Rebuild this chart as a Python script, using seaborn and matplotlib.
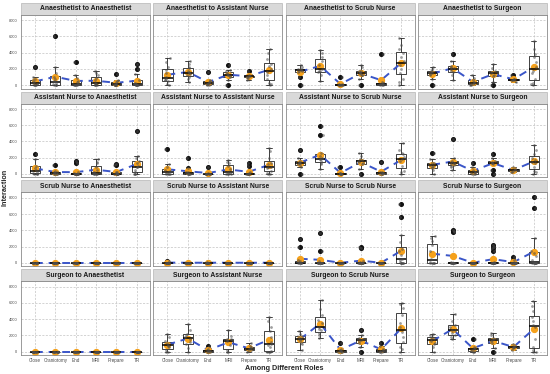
import numpy as np
import pandas as pd
import matplotlib
matplotlib.use("Agg")
import matplotlib.pyplot as plt
from matplotlib.patches import Rectangle
import seaborn as sns

# roles and phases
roles = ["Anaesthetist", "Assistant Nurse", "Scrub Nurse", "Surgeon"]
phases = ["Close", "Craniotomy", "End", "MRI", "Prepare", "TR"]

# interaction values per phase (Close, Craniotomy, End, MRI, Prepare, TR)
an_to_an = [
    [0, 0, 0, 50, 100, 200, 300, 400, 600, 800, 1000, 2200],
    [0, 0, 0, 0, 100, 300, 500, 800, 1000, 1500, 2200, 6100],
    [0, 0, 0, 0, 0, 100, 200, 400, 500, 900, 1300, 2900],
    [0, 0, 0, 0, 100, 200, 300, 600, 900, 1200, 1500, 1800],
    [0, 0, 0, 0, 50, 100, 200, 400, 500, 600, 1400],
    [0, 0, 0, 0, 0, 0, 100, 200, 300, 600, 1400, 2000, 2600],
]
an_to_as = [
    [0, 200, 500, 600, 700, 800, 1000, 1500, 1900, 2200, 2800, 3300],
    [400, 800, 1000, 1200, 1400, 1500, 1600, 1800, 2100, 2200, 2600, 3000],
    [0, 0, 100, 150, 200, 300, 400, 500, 600, 1600],
    [0, 600, 1000, 1100, 1200, 1300, 1400, 1500, 1700, 1900, 2500],
    [700, 900, 1000, 1050, 1100, 1150, 1300, 1700],
    [0, 200, 300, 800, 1200, 1600, 2000, 2400, 2600, 3200, 4000, 4500],
]
an_to_sc = [
    [0, 1000, 1600, 1700, 1800, 1900, 1950, 2000, 2200, 2500],
    [500, 1200, 1600, 1700, 1800, 2000, 2500, 3000, 3500, 4000, 4300],
    [0, 0, 0, 0, 0, 50, 100, 150, 1000],
    [0, 800, 1200, 1300, 1400, 1500, 1600, 1700, 1800, 2200, 2500],
    [0, 0, 50, 100, 200, 300, 400, 3900],
    [0, 400, 800, 1500, 2000, 2500, 3000, 3500, 4000, 4500, 5000, 5800],
]
an_to_su = [
    [0, 800, 1200, 1400, 1500, 1600, 1700, 1800, 2000, 2300],
    [600, 1200, 1600, 1800, 2000, 2100, 2300, 2400, 3000, 3900],
    [0, 0, 100, 200, 300, 400, 600, 900, 1200],
    [0, 400, 1100, 1300, 1500, 1600, 1700, 2100, 2600],
    [400, 600, 650, 700, 750, 800, 1200],
    [0, 200, 300, 800, 1500, 1800, 2200, 2800, 3500, 3800, 4500, 5400],
]
as_to_an = [
    [0, 0, 50, 100, 300, 500, 700, 1000, 1800, 2400],
    [0, 0, 0, 50, 100, 200, 300, 400, 1100],
    [0, 0, 0, 0, 0, 0, 0, 0, 0, 0, 50, 100, 200, 1400, 1600],
    [0, 0, 0, 0, 0, 100, 200, 500, 900, 1300, 1500, 1800],
    [0, 0, 0, 0, 0, 0, 50, 100, 200, 300, 1100, 1200],
    [0, 0, 0, 200, 500, 800, 900, 1000, 1300, 1600, 2000, 2200, 5300],
]
as_to_as = [
    [0, 0, 0, 50, 100, 200, 400, 500, 800, 1200, 3100],
    [0, 0, 0, 0, 50, 100, 200, 300, 700, 2000],
    [0, 0, 0, 0, 0, 0, 50, 100, 900],
    [0, 0, 0, 0, 100, 200, 300, 600, 1000, 1300, 1500, 1700],
    [0, 0, 0, 0, 0, 50, 100, 200, 1000, 1300],
    [0, 0, 100, 400, 700, 800, 900, 1200, 1400, 2000, 2800, 3200],
]
as_to_sc = [
    [0, 900, 1100, 1200, 1300, 1400, 1500, 1600, 2000, 3000],
    [600, 1200, 1400, 1600, 1800, 1900, 2000, 2200, 2600, 4800, 5900],
    [0, 0, 0, 0, 50, 100, 150, 800],
    [0, 600, 1200, 1300, 1500, 1600, 1700, 1800, 2200, 2600],
    [0, 0, 50, 100, 150, 200, 300, 1500],
    [0, 300, 400, 1000, 1600, 1900, 2100, 2400, 2600, 3000, 3800],
]
as_to_su = [
    [0, 500, 700, 900, 1000, 1100, 1300, 1400, 1800, 2600],
    [500, 900, 1000, 1100, 1200, 1300, 1400, 1500, 1600, 2000, 4300],
    [0, 0, 50, 100, 200, 300, 500, 900, 1300],
    [0, 500, 1200, 1300, 1400, 1500, 1600, 2000, 2500],
    [200, 300, 400, 500, 600, 900],
    [0, 200, 400, 900, 1300, 1500, 1700, 2000, 2400, 3000, 3600],
]
sc_to_an = [
    [0, 0, 0, 0, 0, 0, 0, 0, 0, 0],
    [0, 0, 0, 0, 0, 0, 0, 0, 0, 0],
    [0, 0, 0, 0, 0, 0, 0, 0, 0, 0],
    [0, 0, 0, 0, 0, 0, 0, 0, 0, 0],
    [0, 0, 0, 0, 0, 0, 0, 0, 0, 0],
    [0, 0, 0, 0, 0, 0, 0, 0, 0, 0],
]
sc_to_as = [
    [0, 0, 0, 0, 0, 0, 0, 0, 0, 200],
    [0, 0, 0, 0, 0, 0, 0, 0, 0, 0],
    [0, 0, 0, 0, 0, 0, 0, 0, 0, 50],
    [0, 0, 0, 0, 0, 0, 0, 0, 0, 0],
    [0, 0, 0, 0, 0, 0, 0, 0, 0, 0],
    [0, 0, 0, 0, 0, 0, 0, 0, 0, 30],
]
sc_to_sc = [
    [0, 0, 0, 0, 0, 0, 100, 200, 300, 1900, 2900],
    [0, 0, 0, 0, 0, 0, 0, 0, 0, 0, 0, 0, 200, 1500, 3700],
    [0, 0, 0, 0, 0, 0, 0, 0, 0, 0],
    [0, 0, 0, 0, 0, 0, 0, 0, 0, 0, 0, 0, 100, 200, 1800, 2000],
    [0, 0, 0, 0, 0, 0, 0, 0, 0, 0],
    [0, 0, 0, 0, 0, 0, 100, 300, 500, 1000, 1500, 1700, 2500, 3400, 5600, 7200],
]
sc_to_su = [
    [0, 0, 0, 0, 0, 100, 500, 1500, 2200, 2700, 3100, 3300],
    [0, 0, 0, 0, 0, 0, 0, 0, 0, 0, 100, 3800, 3900, 4000],
    [0, 0, 0, 0, 0, 0, 0, 0, 0, 0],
    [0, 0, 0, 0, 0, 0, 0, 0, 0, 0, 0, 0, 100, 1500, 1800, 2000, 2200],
    [0, 0, 0, 0, 0, 0, 0, 0, 0, 0, 0, 0, 300, 700],
    [0, 0, 0, 0, 0, 0, 0, 0, 100, 300, 800, 1200, 1500, 3000, 6800, 8100],
]
su_to_an = [
    [0, 0, 0, 0, 0, 0, 0, 0, 0, 0],
    [0, 0, 0, 0, 0, 0, 0, 0, 0, 0],
    [0, 0, 0, 0, 0, 0, 0, 0, 0, 0],
    [0, 0, 0, 0, 0, 0, 0, 0, 0, 0],
    [0, 0, 0, 0, 0, 0, 0, 0, 0, 0],
    [0, 0, 0, 0, 0, 0, 0, 0, 0, 0],
]
su_to_as = [
    [0, 0, 200, 500, 700, 800, 1000, 1300, 1800, 2200],
    [0, 400, 900, 1200, 1500, 1800, 2000, 2200, 2600, 3400],
    [0, 0, 0, 50, 100, 200, 300, 700],
    [0, 0, 200, 800, 1300, 1400, 1500, 1600, 1900, 2700],
    [0, 100, 200, 300, 400, 500, 700, 1000],
    [0, 0, 0, 100, 500, 800, 900, 1200, 1800, 2500, 3000, 3700, 4300],
]
su_to_sc = [
    [200, 900, 1100, 1300, 1500, 1600, 1800, 1900, 2200, 2500],
    [1700, 2000, 2300, 2600, 2800, 3000, 3500, 3900, 4500, 5200, 6400],
    [0, 0, 0, 50, 100, 200, 300, 1000],
    [0, 500, 1100, 1300, 1400, 1500, 1700, 2000, 2700],
    [0, 0, 0, 50, 100, 200, 300, 700, 1000],
    [0, 300, 500, 1200, 1800, 2400, 3000, 3500, 4500, 5300, 5800, 6000],
]
su_to_su = [
    [0, 500, 900, 1100, 1300, 1500, 1600, 1800, 2000, 2200],
    [1500, 1800, 2000, 2300, 2600, 2700, 3000, 3300, 3800, 4600],
    [0, 0, 100, 200, 300, 400, 600, 1600],
    [0, 400, 1100, 1300, 1400, 1600, 1700, 2000, 2300],
    [200, 400, 500, 550, 600, 700, 900],
    [0, 0, 200, 500, 1500, 3000, 3300, 3800, 4200, 5000, 5600, 6200],
]

panels = [
    an_to_an, an_to_as, an_to_sc, an_to_su,
    as_to_an, as_to_as, as_to_sc, as_to_su,
    sc_to_an, sc_to_as, sc_to_sc, sc_to_su,
    su_to_an, su_to_as, su_to_sc, su_to_su,
]

sns.set_theme(style="white")
plt.rcParams["font.family"] = ["Liberation Sans", "DejaVu Sans"]
np.random.seed(3)

fig, axes = plt.subplots(4, 4, figsize=(5.5, 3.74), dpi=100, sharex=True, sharey=True)
fig.subplots_adjust(left=0.038, right=0.9945, top=0.960, bottom=0.051,
                    wspace=0.027, hspace=0.205)

for idx, vals in enumerate(panels):
    r, c = divmod(idx, 4)
    ax = axes[r, c]
    rows = [(p, v) for p, lst in zip(phases, vals) for v in lst]
    df = pd.DataFrame(rows, columns=["phase", "value"])

    sns.boxplot(data=df, x="phase", y="value", order=phases, ax=ax,
                color="white", linecolor="#222222", linewidth=0.6, width=0.5,
                flierprops=dict(marker="o", markerfacecolor="#111111",
                                markeredgecolor="#111111", markersize=2.6),
                medianprops=dict(linewidth=1.1, color="black"))
    sns.stripplot(data=df, x="phase", y="value", order=phases, ax=ax,
                  color="#4d4d4d", alpha=0.55, size=2.0, jitter=0.12, linewidth=0)
    sns.pointplot(data=df, x="phase", y="value", order=phases, ax=ax,
                  errorbar=None, color="#3a55c8", linestyle=(0, (4, 3)),
                  marker="", linewidth=1.4)
    sns.pointplot(data=df, x="phase", y="value", order=phases, ax=ax,
                  errorbar=None, color="#f5a11c", linestyle="none",
                  marker="o", markersize=3.2)

    ax.set_xlim(-0.7, 5.65)
    ax.set_ylim(-420, 8650)
    ax.set_yticks([0, 2000, 4000, 6000, 8000])
    ax.set_xlabel("")
    ax.set_ylabel("")
    ax.grid(True, linestyle=(0, (3, 2)), color="#c2c2c2", linewidth=0.5)
    ax.set_axisbelow(True)
    for s in ax.spines.values():
        s.set_color("#8a8a8a")
        s.set_linewidth(0.6)
    ax.tick_params(axis="both", length=1.5, width=0.4, color="#555555",
                   labelcolor="#4d4d4d", pad=1.0)
    ax.tick_params(axis="y", labelsize=2.9)
    ax.tick_params(axis="x", labelsize=3.3)

    # facet strip
    ax.add_patch(Rectangle((0, 1.0), 1, 0.165, transform=ax.transAxes,
                           facecolor="#d9d9d9", edgecolor="#b5b5b5",
                           linewidth=0.5, clip_on=False))
    ax.text(0.5, 1.083, f"{roles[r]} to {roles[c]}", transform=ax.transAxes,
            ha="center", va="center", fontsize=4.9, fontweight="bold",
            color="#1a1a1a")

fig.text(0.009, 0.5, "Interaction", rotation=90, ha="center", va="center",
         fontsize=5.2, fontweight="bold")
fig.text(0.516, 0.016, "Among Different Roles", ha="center", va="center",
         fontsize=5.2, fontweight="bold")

fig.savefig("out.png", dpi=100)
